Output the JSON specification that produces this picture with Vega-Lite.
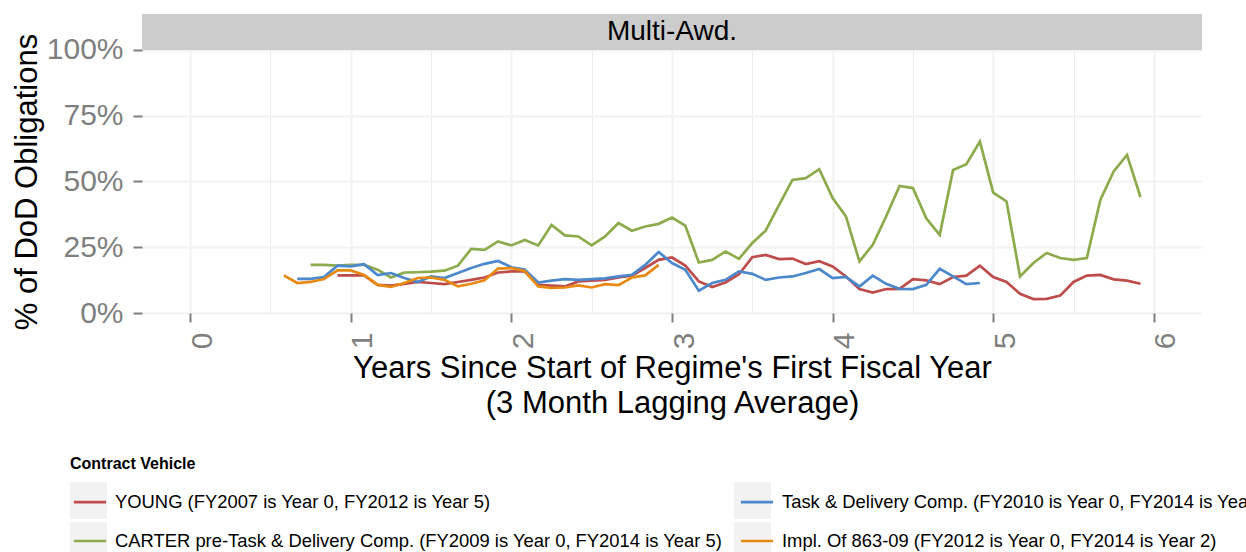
{
  "$schema": "https://vega.github.io/schema/vega-lite/v6.json",
  "width": 1060,
  "height": 299,
  "autosize": {"type": "none"},
  "padding": {"left": 142, "top": 14, "right": 44, "bottom": 239},
  "config": {"font": "Liberation Sans", "view": {"fill": "#e5e5e5", "stroke": null}},
  "data": {"values": [
    {"vehicle":"YOUNG","year":0.917,"share":0.143},{"vehicle":"YOUNG","year":1,"share":0.143},{"vehicle":"YOUNG","year":1.083,"share":0.143},{"vehicle":"YOUNG","year":1.167,"share":0.107},{"vehicle":"YOUNG","year":1.25,"share":0.104},{"vehicle":"YOUNG","year":1.333,"share":0.111},{"vehicle":"YOUNG","year":1.417,"share":0.118},{"vehicle":"YOUNG","year":1.5,"share":0.114},{"vehicle":"YOUNG","year":1.583,"share":0.11},{"vehicle":"YOUNG","year":1.667,"share":0.118},{"vehicle":"YOUNG","year":1.75,"share":0.126},{"vehicle":"YOUNG","year":1.833,"share":0.135},{"vehicle":"YOUNG","year":1.917,"share":0.154},{"vehicle":"YOUNG","year":2,"share":0.158},{"vehicle":"YOUNG","year":2.083,"share":0.158},{"vehicle":"YOUNG","year":2.167,"share":0.107},{"vehicle":"YOUNG","year":2.25,"share":0.104},{"vehicle":"YOUNG","year":2.333,"share":0.101},{"vehicle":"YOUNG","year":2.417,"share":0.12},{"vehicle":"YOUNG","year":2.5,"share":0.123},{"vehicle":"YOUNG","year":2.583,"share":0.126},{"vehicle":"YOUNG","year":2.667,"share":0.135},{"vehicle":"YOUNG","year":2.75,"share":0.142},{"vehicle":"YOUNG","year":2.833,"share":0.171},{"vehicle":"YOUNG","year":2.917,"share":0.202},{"vehicle":"YOUNG","year":3,"share":0.211},{"vehicle":"YOUNG","year":3.083,"share":0.18},{"vehicle":"YOUNG","year":3.167,"share":0.12},{"vehicle":"YOUNG","year":3.25,"share":0.099},{"vehicle":"YOUNG","year":3.333,"share":0.116},{"vehicle":"YOUNG","year":3.417,"share":0.147},{"vehicle":"YOUNG","year":3.5,"share":0.212},{"vehicle":"YOUNG","year":3.583,"share":0.221},{"vehicle":"YOUNG","year":3.667,"share":0.205},{"vehicle":"YOUNG","year":3.75,"share":0.207},{"vehicle":"YOUNG","year":3.833,"share":0.186},{"vehicle":"YOUNG","year":3.917,"share":0.197},{"vehicle":"YOUNG","year":4,"share":0.177},{"vehicle":"YOUNG","year":4.083,"share":0.139},{"vehicle":"YOUNG","year":4.167,"share":0.091},{"vehicle":"YOUNG","year":4.25,"share":0.078},{"vehicle":"YOUNG","year":4.333,"share":0.091},{"vehicle":"YOUNG","year":4.417,"share":0.092},{"vehicle":"YOUNG","year":4.5,"share":0.129},{"vehicle":"YOUNG","year":4.583,"share":0.124},{"vehicle":"YOUNG","year":4.667,"share":0.11},{"vehicle":"YOUNG","year":4.75,"share":0.137},{"vehicle":"YOUNG","year":4.833,"share":0.142},{"vehicle":"YOUNG","year":4.917,"share":0.18},{"vehicle":"YOUNG","year":5,"share":0.137},{"vehicle":"YOUNG","year":5.083,"share":0.118},{"vehicle":"YOUNG","year":5.167,"share":0.073},{"vehicle":"YOUNG","year":5.25,"share":0.053},{"vehicle":"YOUNG","year":5.333,"share":0.054},{"vehicle":"YOUNG","year":5.417,"share":0.066},{"vehicle":"YOUNG","year":5.5,"share":0.118},{"vehicle":"YOUNG","year":5.583,"share":0.142},{"vehicle":"YOUNG","year":5.667,"share":0.145},{"vehicle":"YOUNG","year":5.75,"share":0.128},{"vehicle":"YOUNG","year":5.833,"share":0.123},{"vehicle":"YOUNG","year":5.917,"share":0.111},
    {"vehicle":"CARTER","year":0.75,"share":0.183},{"vehicle":"CARTER","year":0.833,"share":0.183},{"vehicle":"CARTER","year":0.917,"share":0.18},{"vehicle":"CARTER","year":1,"share":0.183},{"vehicle":"CARTER","year":1.083,"share":0.183},{"vehicle":"CARTER","year":1.167,"share":0.165},{"vehicle":"CARTER","year":1.25,"share":0.135},{"vehicle":"CARTER","year":1.333,"share":0.154},{"vehicle":"CARTER","year":1.417,"share":0.155},{"vehicle":"CARTER","year":1.5,"share":0.157},{"vehicle":"CARTER","year":1.583,"share":0.161},{"vehicle":"CARTER","year":1.667,"share":0.18},{"vehicle":"CARTER","year":1.75,"share":0.244},{"vehicle":"CARTER","year":1.833,"share":0.24},{"vehicle":"CARTER","year":1.917,"share":0.272},{"vehicle":"CARTER","year":2,"share":0.257},{"vehicle":"CARTER","year":2.083,"share":0.278},{"vehicle":"CARTER","year":2.167,"share":0.257},{"vehicle":"CARTER","year":2.25,"share":0.335},{"vehicle":"CARTER","year":2.333,"share":0.295},{"vehicle":"CARTER","year":2.417,"share":0.291},{"vehicle":"CARTER","year":2.5,"share":0.257},{"vehicle":"CARTER","year":2.583,"share":0.291},{"vehicle":"CARTER","year":2.667,"share":0.342},{"vehicle":"CARTER","year":2.75,"share":0.313},{"vehicle":"CARTER","year":2.833,"share":0.329},{"vehicle":"CARTER","year":2.917,"share":0.339},{"vehicle":"CARTER","year":3,"share":0.363},{"vehicle":"CARTER","year":3.083,"share":0.332},{"vehicle":"CARTER","year":3.167,"share":0.192},{"vehicle":"CARTER","year":3.25,"share":0.202},{"vehicle":"CARTER","year":3.333,"share":0.234},{"vehicle":"CARTER","year":3.417,"share":0.206},{"vehicle":"CARTER","year":3.5,"share":0.266},{"vehicle":"CARTER","year":3.583,"share":0.313},{"vehicle":"CARTER","year":3.667,"share":0.411},{"vehicle":"CARTER","year":3.75,"share":0.506},{"vehicle":"CARTER","year":3.833,"share":0.513},{"vehicle":"CARTER","year":3.917,"share":0.547},{"vehicle":"CARTER","year":4,"share":0.437},{"vehicle":"CARTER","year":4.083,"share":0.367},{"vehicle":"CARTER","year":4.167,"share":0.196},{"vehicle":"CARTER","year":4.25,"share":0.259},{"vehicle":"CARTER","year":4.333,"share":0.367},{"vehicle":"CARTER","year":4.417,"share":0.483},{"vehicle":"CARTER","year":4.5,"share":0.475},{"vehicle":"CARTER","year":4.583,"share":0.36},{"vehicle":"CARTER","year":4.667,"share":0.297},{"vehicle":"CARTER","year":4.75,"share":0.544},{"vehicle":"CARTER","year":4.833,"share":0.566},{"vehicle":"CARTER","year":4.917,"share":0.652},{"vehicle":"CARTER","year":5,"share":0.458},{"vehicle":"CARTER","year":5.083,"share":0.424},{"vehicle":"CARTER","year":5.167,"share":0.139},{"vehicle":"CARTER","year":5.25,"share":0.19},{"vehicle":"CARTER","year":5.333,"share":0.228},{"vehicle":"CARTER","year":5.417,"share":0.209},{"vehicle":"CARTER","year":5.5,"share":0.202},{"vehicle":"CARTER","year":5.583,"share":0.209},{"vehicle":"CARTER","year":5.667,"share":0.43},{"vehicle":"CARTER","year":5.75,"share":0.538},{"vehicle":"CARTER","year":5.833,"share":0.601},{"vehicle":"CARTER","year":5.917,"share":0.441},
    {"vehicle":"Task","year":0.667,"share":0.13},{"vehicle":"Task","year":0.75,"share":0.13},{"vehicle":"Task","year":0.833,"share":0.137},{"vehicle":"Task","year":0.917,"share":0.18},{"vehicle":"Task","year":1,"share":0.177},{"vehicle":"Task","year":1.083,"share":0.186},{"vehicle":"Task","year":1.167,"share":0.144},{"vehicle":"Task","year":1.25,"share":0.152},{"vehicle":"Task","year":1.333,"share":0.133},{"vehicle":"Task","year":1.417,"share":0.118},{"vehicle":"Task","year":1.5,"share":0.139},{"vehicle":"Task","year":1.583,"share":0.133},{"vehicle":"Task","year":1.667,"share":0.152},{"vehicle":"Task","year":1.75,"share":0.171},{"vehicle":"Task","year":1.833,"share":0.187},{"vehicle":"Task","year":1.917,"share":0.198},{"vehicle":"Task","year":2,"share":0.174},{"vehicle":"Task","year":2.083,"share":0.165},{"vehicle":"Task","year":2.167,"share":0.116},{"vehicle":"Task","year":2.25,"share":0.123},{"vehicle":"Task","year":2.333,"share":0.129},{"vehicle":"Task","year":2.417,"share":0.126},{"vehicle":"Task","year":2.5,"share":0.129},{"vehicle":"Task","year":2.583,"share":0.132},{"vehicle":"Task","year":2.667,"share":0.139},{"vehicle":"Task","year":2.75,"share":0.145},{"vehicle":"Task","year":2.833,"share":0.183},{"vehicle":"Task","year":2.917,"share":0.232},{"vehicle":"Task","year":3,"share":0.19},{"vehicle":"Task","year":3.083,"share":0.164},{"vehicle":"Task","year":3.167,"share":0.085},{"vehicle":"Task","year":3.25,"share":0.114},{"vehicle":"Task","year":3.333,"share":0.126},{"vehicle":"Task","year":3.417,"share":0.158},{"vehicle":"Task","year":3.5,"share":0.149},{"vehicle":"Task","year":3.583,"share":0.126},{"vehicle":"Task","year":3.667,"share":0.135},{"vehicle":"Task","year":3.75,"share":0.139},{"vehicle":"Task","year":3.833,"share":0.152},{"vehicle":"Task","year":3.917,"share":0.167},{"vehicle":"Task","year":4,"share":0.133},{"vehicle":"Task","year":4.083,"share":0.137},{"vehicle":"Task","year":4.167,"share":0.101},{"vehicle":"Task","year":4.25,"share":0.142},{"vehicle":"Task","year":4.333,"share":0.111},{"vehicle":"Task","year":4.417,"share":0.092},{"vehicle":"Task","year":4.5,"share":0.091},{"vehicle":"Task","year":4.583,"share":0.107},{"vehicle":"Task","year":4.667,"share":0.168},{"vehicle":"Task","year":4.75,"share":0.139},{"vehicle":"Task","year":4.833,"share":0.11},{"vehicle":"Task","year":4.917,"share":0.114},
    {"vehicle":"Impl","year":0.583,"share":0.143},{"vehicle":"Impl","year":0.667,"share":0.114},{"vehicle":"Impl","year":0.75,"share":0.118},{"vehicle":"Impl","year":0.833,"share":0.129},{"vehicle":"Impl","year":0.917,"share":0.162},{"vehicle":"Impl","year":1,"share":0.162},{"vehicle":"Impl","year":1.083,"share":0.145},{"vehicle":"Impl","year":1.167,"share":0.107},{"vehicle":"Impl","year":1.25,"share":0.099},{"vehicle":"Impl","year":1.333,"share":0.114},{"vehicle":"Impl","year":1.417,"share":0.133},{"vehicle":"Impl","year":1.5,"share":0.135},{"vehicle":"Impl","year":1.583,"share":0.126},{"vehicle":"Impl","year":1.667,"share":0.101},{"vehicle":"Impl","year":1.75,"share":0.111},{"vehicle":"Impl","year":1.833,"share":0.124},{"vehicle":"Impl","year":1.917,"share":0.169},{"vehicle":"Impl","year":2,"share":0.171},{"vehicle":"Impl","year":2.083,"share":0.16},{"vehicle":"Impl","year":2.167,"share":0.101},{"vehicle":"Impl","year":2.25,"share":0.095},{"vehicle":"Impl","year":2.333,"share":0.097},{"vehicle":"Impl","year":2.417,"share":0.105},{"vehicle":"Impl","year":2.5,"share":0.097},{"vehicle":"Impl","year":2.583,"share":0.11},{"vehicle":"Impl","year":2.667,"share":0.106},{"vehicle":"Impl","year":2.75,"share":0.135},{"vehicle":"Impl","year":2.833,"share":0.143},{"vehicle":"Impl","year":2.917,"share":0.183}
  ]},
  "layer": [
    {
      "mark": {"type": "line", "strokeWidth": 2.7},
      "encoding": {
        "x": {"field": "year", "type": "quantitative",
              "scale": {"domain": [-0.3, 6.3], "nice": false, "zero": false},
              "axis": {"orient": "bottom", "values": [0, 0.5, 1, 1.5, 2, 2.5, 3, 3.5, 4, 4.5, 5, 5.5, 6],
                       "labelExpr": "datum.value % 1 == 0 ? format(datum.value, 'd') : ''",
                       "grid": true,
                       "gridColor": {"condition": {"test": "datum.value % 1 != 0", "value": "#ebebeb"}, "value": "#f2f2f2"},
                       "gridWidth": {"condition": {"test": "datum.value % 1 != 0", "value": 1}, "value": 2},
                       "domain": false, "ticks": true, "tickColor": "#7f7f7f", "tickWidth": 2, "tickSize": 9,
                       "tickOpacity": {"condition": {"test": "datum.value % 1 != 0", "value": 0}, "value": 1},
                       "labelAngle": 270, "labelAlign": "right", "labelBaseline": "top", "labelFontSize": 30, "labelColor": "#7f7f7f", "labelPadding": 10, "labelOffset": -3, "labelFlush": false, "labelOverlap": false,
                       "title": ["Years Since Start of Regime's First Fiscal Year", "(3 Month Lagging Average)"], "titleFontSize": 31, "titleFontWeight": "normal", "titleColor": "#000000", "titlePadding": 5, "titleLineHeight": 35}},
        "y": {"field": "share", "type": "quantitative",
              "scale": {"domain": [0, 1.13688], "nice": false, "zero": false},
              "axis": {"orient": "left", "values": [0, 0.125, 0.25, 0.375, 0.5, 0.625, 0.75, 0.875, 1],
                       "labelExpr": "(datum.value * 8) % 2 == 0 ? format(datum.value, '.0%') : ''",
                       "grid": true,
                       "gridColor": {"condition": {"test": "(datum.value * 8) % 2 != 0", "value": "#ebebeb"}, "value": "#f2f2f2"},
                       "gridWidth": {"condition": {"test": "(datum.value * 8) % 2 != 0", "value": 1}, "value": 2},
                       "domain": false, "ticks": true, "tickColor": "#7f7f7f", "tickWidth": 2, "tickSize": 9,
                       "tickOpacity": {"condition": {"test": "(datum.value * 8) % 2 != 0", "value": 0}, "value": 1},
                       "labelFontSize": 30, "labelColor": "#7f7f7f", "labelPadding": 10, "labelFlush": false, "labelOverlap": false,
                       "title": "% of DoD Obligations", "titleFontSize": 31, "titleFontWeight": "normal", "titleColor": "#000000", "titlePadding": 3, "titleY": 167.5}},
        "color": {"field": "vehicle", "type": "nominal",
                  "scale": {"domain": ["YOUNG", "CARTER", "Task", "Impl"], "range": ["#be4c4a", "#8cab4c", "#4c88cc", "#e88a12"]},
                  "legend": {"orient": "none", "legendX": -72, "legendY": 442, "direction": "vertical", "columns": 2, "padding": 0,
                             "title": "Contract Vehicle", "titleFontSize": 16, "titleFontWeight": "bold", "titleColor": "#000000", "titlePadding": 10,
                             "labelFontSize": 18.4, "labelColor": "#000000", "labelLimit": 2000, "labelOffset": 5,
                             "symbolType": "M-1,-0.72M1,0.72M-0.87,0H0.87", "symbolSize": 1369, "symbolStrokeWidth": 2.7, "symbolFillColor": "transparent",
                             "rowPadding": 0, "columnPadding": 10, "zindex": 2,
                             "labelExpr": "datum.value == 'YOUNG' ? 'YOUNG (FY2007 is Year 0, FY2012 is Year 5)' : datum.value == 'Task' ? 'Task & Delivery Comp. (FY2010 is Year 0, FY2014 is Year 4)' : datum.value == 'CARTER' ? 'CARTER pre-Task & Delivery Comp. (FY2009 is Year 0, FY2014 is Year 5)' : 'Impl. Of 863-09 (FY2012 is Year 0, FY2014 is Year 2)'"}}
      }
    },
    {
      "data": {"values": []},
      "mark": {"type": "square"},
      "encoding": {
        "fill": {"field": "key", "type": "nominal",
                 "scale": {"domain": ["y", "c", "t", "i"], "range": ["#f2f2f2", "#f2f2f2", "#f2f2f2", "#f2f2f2"]},
                 "legend": {"orient": "none", "legendX": -72, "legendY": 442, "direction": "vertical", "columns": 2, "padding": 0,
                            "title": "Contract Vehicle", "titleFontSize": 16, "titleFontWeight": "bold", "titleOpacity": 0, "titlePadding": 10,
                            "labelFontSize": 18.4, "labelOpacity": 0, "labelLimit": 2000, "labelOffset": 9,
                            "symbolType": "square", "symbolSize": 1369, "symbolStrokeWidth": 0, "symbolOpacity": 1,
                            "rowPadding": 3, "columnPadding": 10, "zindex": 1,
                            "labelExpr": "datum.value == 'y' ? 'YOUNG (FY2007 is Year 0, FY2012 is Year 5)' : datum.value == 't' ? 'Task & Delivery Comp. (FY2010 is Year 0, FY2014 is Year 4)' : datum.value == 'c' ? 'CARTER pre-Task & Delivery Comp. (FY2009 is Year 0, FY2014 is Year 5)' : 'Impl. Of 863-09 (FY2012 is Year 0, FY2014 is Year 2)'"}}
      }
    },
    {
      "data": {"values": [{"panel": "Multi-Awd."}]},
      "mark": {"type": "rect", "fill": "#cccccc"},
      "encoding": {
        "x": {"datum": -0.3, "type": "quantitative"},
        "x2": {"datum": 6.3},
        "y": {"datum": 1, "type": "quantitative"},
        "y2": {"datum": 1.13688}
      }
    },
    {
      "data": {"values": [{"panel": "Multi-Awd."}]},
      "mark": {"type": "text", "fontSize": 28, "color": "#000000", "align": "center", "baseline": "middle"},
      "encoding": {
        "x": {"datum": 3, "type": "quantitative"},
        "y": {"datum": 1.06844, "type": "quantitative"},
        "text": {"field": "panel"}
      }
    }
  ]
}
